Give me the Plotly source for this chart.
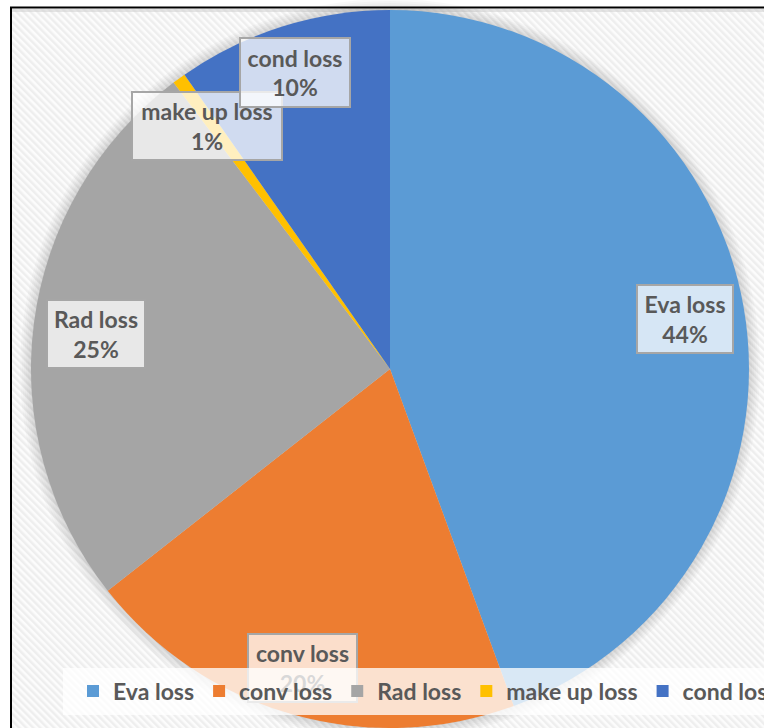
import base64
import plotly.graph_objects as go

# ---- data ----
labels = ["Eva loss", "conv loss", "Rad loss", "make up loss", "cond loss"]
values = [44.4, 20.0, 25.3, 0.6, 9.7]
colors = ["#5B9BD5", "#ED7D31", "#A5A5A5", "#FFC000", "#4472C4"]

# ---- layout helpers (pixel -> paper) ----
W, H = 764, 728
ML, MR, MT, MB = 31, 15, 10, 0
PW, PH = W - ML - MR, H - MT - MB
CX, CY, R = ML + PW / 2, MT + PH / 2, PW / 2


def px(x):
    return (x - ML) / PW


def py(y):
    return (H - MB - y) / PH


total = sum(values)
pct_text = [f"{round(v / total * 100)}%" for v in values]

# data label boxes (pixel boxes: x0, y0, x1, y1)
label_boxes = [
    (637, 285, 733, 353),
    (248, 634, 357, 702),
    (47, 300, 145, 368),
    (132, 92, 282, 160),
    (240, 38, 350, 107),
]

FONT = "Lato"
TXT = "#595959"
FS = 23

fig = go.Figure()
fig.add_trace(go.Pie(
    labels=labels,
    values=values,
    sort=False,
    direction="clockwise",
    rotation=0,
    marker=dict(colors=colors, line=dict(width=0)),
    textinfo="none",
    domain=dict(x=[0, 1], y=[0, 1]),
    showlegend=True,
))

# striped background pattern
svg = (
    '<svg xmlns="http://www.w3.org/2000/svg" width="760" height="720">'
    '<defs><pattern id="p" width="5" height="5" patternUnits="userSpaceOnUse" '
    'patternTransform="rotate(-45)">'
    '<rect width="5" height="5" fill="#fcfcfc"/>'
    '<rect width="2.5" height="5" fill="#eeeeee"/></pattern></defs>'
    '<rect width="760" height="720" fill="url(#p)"/></svg>'
)
src = "data:image/svg+xml;base64," + base64.b64encode(svg.encode()).decode()
bx0, by0, bx1, by1 = 12, 9, 764, 728
fig.add_layout_image(dict(
    source=src, xref="paper", yref="paper",
    x=px(bx0), y=py(by0), sizex=px(bx1) - px(bx0), sizey=py(by0) - py(by1),
    xanchor="left", yanchor="top", sizing="stretch", layer="below",
))

shapes = []
# soft gray line under the top border
shapes.append(dict(type="rect", xref="paper", yref="paper",
                   x0=px(11), x1=px(764), y0=py(9), y1=py(12),
                   fillcolor="rgba(200,200,200,0.45)", line=dict(width=0), layer="below"))

# soft shadow around the pie
for k in range(1, 12, 2):
    r = R + k
    shapes.append(dict(type="circle", xref="paper", yref="paper",
                       x0=px(CX - r), x1=px(CX + r), y0=py(CY + r), y1=py(CY - r),
                       fillcolor="rgba(0,0,0,0.025)", line=dict(width=0), layer="below"))

# data label boxes
for (x0, y0, x1, y1), lab, pt in zip(label_boxes, labels, pct_text):
    shapes.append(dict(
        type="rect", xref="paper", yref="paper",
        x0=px(x0), x1=px(x1), y0=py(y1), y1=py(y0),
        fillcolor="rgba(255,255,255,0.75)",
        line=dict(color="#A6A6A6", width=2),
        layer="above",
        label=dict(text=f"<b>{lab}</b><br><b>{pt}</b>",
                   font=dict(family=FONT, size=FS, color=TXT),
                   textposition="middle center"),
    ))

# legend band
shapes.append(dict(type="rect", xref="paper", yref="paper",
                   x0=px(63), x1=px(780), y0=py(715), y1=py(668),
                   fillcolor="rgba(255,255,255,0.77)", line=dict(width=0), layer="above"))

# chart border (top and left)
shapes.append(dict(type="line", xref="paper", yref="paper",
                   x0=px(10), x1=px(770), y0=py(7.5), y1=py(7.5),
                   line=dict(color="black", width=2), layer="above"))
shapes.append(dict(type="line", xref="paper", yref="paper",
                   x0=px(11), x1=px(11), y0=py(7), y1=py(740),
                   line=dict(color="black", width=2), layer="above"))

fig.update_layout(
    width=W, height=H,
    margin=dict(l=ML, r=MR, t=MT, b=MB, autoexpand=False),
    paper_bgcolor="white",
    plot_bgcolor="white",
    shapes=shapes,
    showlegend=True,
    legend=dict(
        orientation="h",
        x=px(73), xanchor="left",
        y=py(691), yanchor="middle",
        bgcolor="rgba(0,0,0,0)", borderwidth=0,
        font=dict(family=FONT, size=FS, color=TXT, weight="bold"),
        traceorder="normal",
    ),
)

fig.write_html("out.html")
